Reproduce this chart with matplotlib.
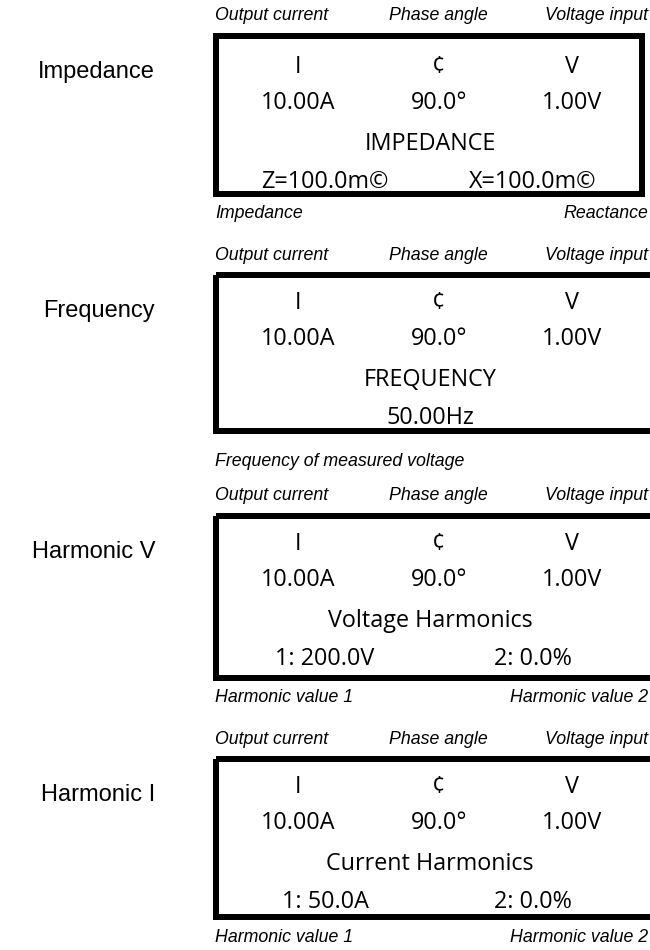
from matplotlib import pyplot as plt
from matplotlib.patches import Rectangle

# names of the four screens
screens = ['Impedance', 'Frequency', 'Harmonic V', 'Harmonic I']
# labels above each box
top_labels = ['Output current', 'Phase angle', 'Voltage input']
# display rows inside the box
row_symbols = ['I', '\u00a2', 'V']
row_values = ['10.00A', '90.0\u00b0', '1.00V']
titles = ['IMPEDANCE', 'FREQUENCY', 'Voltage Harmonics', 'Current Harmonics']
bottom_left = ['Z=100.0m\u00a9', '50.00Hz', '1: 200.0V', '1: 50.0A']
bottom_right = ['X=100.0m\u00a9', '', '2: 0.0%', '2: 0.0%']
# labels below each box
below_left = ['Impedance', 'Frequency of measured voltage', 'Harmonic value 1', 'Harmonic value 1']
below_right = ['Reactance', '', 'Harmonic value 2', 'Harmonic value 2']

# layout in pixels
box_top = [33, 272, 513, 756]
box_bot = [197, 434, 681, 920]
box_right = [645, 660, 660, 660]
below_gap = [16, 28, 16, 18]
row_shift = [3, 0, 0, 0]
box_left = 213
lw_px = 6

fig = plt.figure(figsize=(6.5, 9.5), dpi=100)
ax = fig.add_axes([0, 0, 1, 1])
ax.set_xlim(0, 650)
ax.set_ylim(950, 0)
ax.axis('off')

lcd = 'Open Sans'
arial = 'Liberation Sans'
col_x = [298, 439, 572]
fs_lcd = 16.8
fs_it = 12.8

for k in range(4):
    t, b = box_top[k], box_bot[k]
    r = t + row_shift[k]
    h = lw_px / 2
    ax.add_patch(Rectangle((box_left + h, t + h), box_right[k] - box_left - lw_px, b - t - lw_px,
                           fill=False, edgecolor='black', linewidth=lw_px * 0.72, clip_on=True))
    # side label
    ax.text(155, t + 39, screens[k], ha='right', va='center', family=arial, fontsize=17)
    # top labels
    ax.text(box_left + 2, t - 17, top_labels[0], ha='left', va='center', family=arial, style='italic', fontsize=fs_it)
    ax.text(438, t - 17, top_labels[1], ha='center', va='center', family=arial, style='italic', fontsize=fs_it)
    ax.text(648, t - 17, top_labels[2], ha='right', va='center', family=arial, style='italic', fontsize=fs_it)
    # rows
    for j in range(3):
        ax.text(col_x[j], r + 31, row_symbols[j], ha='center', va='center', family=lcd, fontsize=fs_lcd)
        ax.text(col_x[j], r + 67, row_values[j], ha='center', va='center', family=lcd, fontsize=fs_lcd)
    ax.text(430, r + 108, titles[k], ha='center', va='center', family=lcd, fontsize=fs_lcd)
    if bottom_right[k]:
        ax.text(325, r + 146, bottom_left[k], ha='center', va='center', family=lcd, fontsize=fs_lcd)
        ax.text(533, r + 146, bottom_right[k], ha='center', va='center', family=lcd, fontsize=fs_lcd)
    else:
        ax.text(430, r + 146, bottom_left[k], ha='center', va='center', family=lcd, fontsize=fs_lcd)
    # below labels
    ax.text(box_left + 2, b + below_gap[k], below_left[k], ha='left', va='center', family=arial, style='italic', fontsize=fs_it)
    if below_right[k]:
        ax.text(648, b + below_gap[k], below_right[k], ha='right', va='center', family=arial, style='italic', fontsize=fs_it)

fig.savefig('out.png', dpi=100)
